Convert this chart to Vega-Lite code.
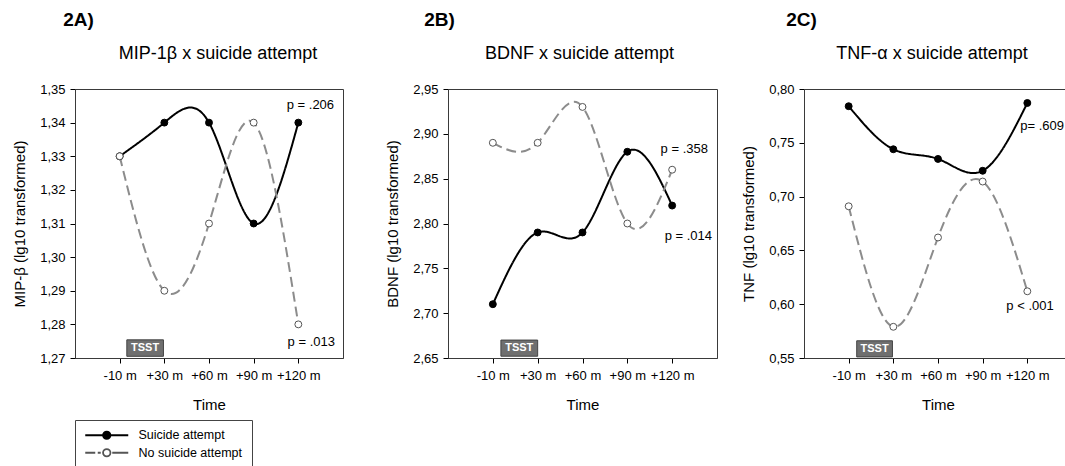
{
 "$schema": "https://vega.github.io/schema/vega-lite/v6.json",
 "padding": {"left": 12, "top": 10, "right": 0, "bottom": 0},
 "background": "white",
 "datasets": {
  "a": [
   {"t": 1, "group": "Suicide attempt", "value": 1.33},
   {"t": 2, "group": "Suicide attempt", "value": 1.34},
   {"t": 3, "group": "Suicide attempt", "value": 1.34},
   {"t": 4, "group": "Suicide attempt", "value": 1.31},
   {"t": 5, "group": "Suicide attempt", "value": 1.34},
   {"t": 1, "group": "No suicide attempt", "value": 1.33},
   {"t": 2, "group": "No suicide attempt", "value": 1.29},
   {"t": 3, "group": "No suicide attempt", "value": 1.31},
   {"t": 4, "group": "No suicide attempt", "value": 1.34},
   {"t": 5, "group": "No suicide attempt", "value": 1.28}
  ],
  "b": [
   {"t": 1, "group": "Suicide attempt", "value": 2.71},
   {"t": 2, "group": "Suicide attempt", "value": 2.79},
   {"t": 3, "group": "Suicide attempt", "value": 2.79},
   {"t": 4, "group": "Suicide attempt", "value": 2.88},
   {"t": 5, "group": "Suicide attempt", "value": 2.82},
   {"t": 1, "group": "No suicide attempt", "value": 2.89},
   {"t": 2, "group": "No suicide attempt", "value": 2.89},
   {"t": 3, "group": "No suicide attempt", "value": 2.93},
   {"t": 4, "group": "No suicide attempt", "value": 2.80},
   {"t": 5, "group": "No suicide attempt", "value": 2.86}
  ],
  "c": [
   {"t": 1, "group": "Suicide attempt", "value": 0.784},
   {"t": 2, "group": "Suicide attempt", "value": 0.744},
   {"t": 3, "group": "Suicide attempt", "value": 0.735},
   {"t": 4, "group": "Suicide attempt", "value": 0.724},
   {"t": 5, "group": "Suicide attempt", "value": 0.787},
   {"t": 1, "group": "No suicide attempt", "value": 0.691},
   {"t": 2, "group": "No suicide attempt", "value": 0.579},
   {"t": 3, "group": "No suicide attempt", "value": 0.662},
   {"t": 4, "group": "No suicide attempt", "value": 0.714},
   {"t": 5, "group": "No suicide attempt", "value": 0.612}
  ],
  "aNote": [
   {"t": 5.27, "value": 1.3452, "label": "p = .206"},
   {"t": 5.29, "value": 1.2747, "label": "p = .013"}
  ],
  "bNote": [
   {"t": 5.27, "value": 2.883, "label": "p = .358"},
   {"t": 5.36, "value": 2.786, "label": "p = .014"}
  ],
  "cNote": [
   {"t": 5.33, "value": 0.7655, "label": "p= .609"},
   {"t": 5.06, "value": 0.5985, "label": "p < .001"}
  ],
  "aBox": [{"x1": 1.16, "x2": 1.98, "y1": 1.2705, "y2": 1.2754, "xm": 1.57, "ym": 1.2729, "label": "TSST"}],
  "bBox": [{"x1": 1.18, "x2": 2.0, "y1": 2.652, "y2": 2.670, "xm": 1.59, "ym": 2.661, "label": "TSST"}],
  "cBox": [{"x1": 1.18, "x2": 1.98, "y1": 0.551, "y2": 0.566, "xm": 1.58, "ym": 0.5585, "label": "TSST"}]
 },
 "config": {
  "font": "Liberation Sans",
  "view": {"stroke": "#3a3a3a", "strokeWidth": 1},
  "axis": {"grid": false, "domainColor": "#3a3a3a", "tickColor": "#000000", "tickSize": 5, "tickCount": 20, "labelColor": "#000000", "titleColor": "#000000", "labelFontSize": 13, "titleFontSize": 15, "titleFontWeight": "normal", "labelFont": "Liberation Sans", "titleFont": "Liberation Sans", "labelOverlap": false},
  "axisX": {"labelPadding": 6, "titlePadding": 15, "labelAngle": 0},
  "axisY": {"labelPadding": 5, "titlePadding": 12},
  "title": {"font": "Liberation Sans", "color": "#000000"}
 },
 "spacing": 41,
 "hconcat": [
  {
   "title": {"text": "2A)", "anchor": "start", "fontSize": 19, "fontWeight": "bold", "dx": 51, "offset": 15},
   "vconcat": [{
    "width": 268, "height": 269,
    "title": {"text": "MIP-1β x suicide attempt", "fontSize": 18, "fontWeight": "normal", "dx": 9, "offset": 20},
    "layer": [
     {"data": {"name": "a"}, "mark": {"type": "line", "interpolate": "natural", "strokeWidth": 2},
      "encoding": {
       "x": {"field": "t", "type": "quantitative", "scale": {"domain": [0, 6], "nice": false}, "axis": {"values": [1, 2, 3, 4, 5], "labelExpr": "['', '-10 m', '+30 m', '+60 m', '+90 m', '+120 m'][datum.value]", "title": "Time"}},
       "y": {"field": "value", "type": "quantitative", "scale": {"domain": [1.27, 1.35], "nice": false, "zero": false}, "axis": {"values": [1.27, 1.28, 1.29, 1.30, 1.31, 1.32, 1.33, 1.34, 1.35], "labelExpr": "replace(format(datum.value, '.2f'), '.', ',')", "title": "MIP-β (lg10 transformed)"}},
       "color": {"field": "group", "type": "nominal", "scale": {"domain": ["No suicide attempt", "Suicide attempt"], "range": ["#8c8c8c", "#000000"]}, "legend": null},
       "strokeDash": {"field": "group", "type": "nominal", "scale": {"domain": ["No suicide attempt", "Suicide attempt"], "range": [[10, 5], [1, 0]]}, "legend": null}
      }},
     {"data": {"name": "a"}, "mark": {"type": "circle", "size": 48, "strokeWidth": 1, "opacity": 1},
      "encoding": {
       "x": {"field": "t", "type": "quantitative"},
       "y": {"field": "value", "type": "quantitative"},
       "fill": {"field": "group", "type": "nominal", "scale": {"domain": ["Suicide attempt", "No suicide attempt"], "range": ["#000000", "#ffffff"]}},
       "stroke": {"field": "group", "type": "nominal", "scale": {"domain": ["Suicide attempt", "No suicide attempt"], "range": ["#000000", "#555555"]}}
      }},
     {"data": {"name": "a"}, "transform": [{"filter": "false"}], "mark": {"type": "point", "filled": true, "size": 100, "strokeWidth": 1.8, "opacity": 1},
      "encoding": {
       "x": {"field": "t", "type": "quantitative"},
       "y": {"field": "value", "type": "quantitative"},
       "fill": {"field": "group", "type": "nominal"},
       "stroke": {"field": "group", "type": "nominal"},
       "shape": {"field": "group", "type": "nominal", "scale": {"domain": ["Suicide attempt", "No suicide attempt"], "range": ["M-1,0H7.6M2.56,0A0.74,0.74,0,1,1,4.04,0A0.74,0.74,0,1,1,2.56,0Z", "M-1,0H1.0M1.5,0H2.1M4.4,0H7.6M2.56,0A0.74,0.74,0,1,1,4.04,0A0.74,0.74,0,1,1,2.56,0Z"]},
        "legend": {"orient": "none", "legendX": 0, "legendY": 331, "title": null, "strokeColor": "#444444", "padding": 9, "labelFontSize": 12.5, "labelFont": "Liberation Sans", "labelColor": "#000000", "symbolSize": 100, "symbolStrokeWidth": 1.8, "symbolOpacity": 1, "labelOffset": 42, "rowPadding": 1.5}}
      }},
     {"data": {"name": "aBox"}, "mark": {"type": "rect", "fill": "#6f6f6f", "stroke": "#444444", "strokeWidth": 1},
      "encoding": {"x": {"field": "x1", "type": "quantitative"}, "x2": {"field": "x2"}, "y": {"field": "y1", "type": "quantitative"}, "y2": {"field": "y2"}}},
     {"data": {"name": "aBox"}, "mark": {"type": "text", "color": "#ffffff", "fontWeight": "bold", "fontSize": 11, "align": "center", "baseline": "middle"},
      "encoding": {"x": {"field": "xm", "type": "quantitative"}, "y": {"field": "ym", "type": "quantitative"}, "text": {"field": "label"}}},
     {"data": {"name": "aNote"}, "mark": {"type": "text", "color": "#000000", "fontSize": 13, "align": "center", "baseline": "middle"},
      "encoding": {"x": {"field": "t", "type": "quantitative"}, "y": {"field": "value", "type": "quantitative"}, "text": {"field": "label"}}}
    ]
   }]
  },
  {
   "spacing": 23,
   "hconcat": [
    {
     "title": {"text": "2B)", "anchor": "start", "fontSize": 19, "fontWeight": "bold", "dx": 39, "offset": 15},
     "vconcat": [{
      "width": 269, "height": 269,
      "title": {"text": "BDNF x suicide attempt", "fontSize": 18, "fontWeight": "normal", "dx": -3, "offset": 20},
      "layer": [
       {"data": {"name": "b"}, "mark": {"type": "line", "interpolate": "natural", "strokeWidth": 2},
        "encoding": {
         "x": {"field": "t", "type": "quantitative", "scale": {"domain": [0, 6], "nice": false}, "axis": {"values": [1, 2, 3, 4, 5], "labelExpr": "['', '-10 m', '+30 m', '+60 m', '+90 m', '+120 m'][datum.value]", "title": "Time"}},
         "y": {"field": "value", "type": "quantitative", "scale": {"domain": [2.65, 2.95], "nice": false, "zero": false}, "axis": {"values": [2.65, 2.70, 2.75, 2.80, 2.85, 2.90, 2.95], "labelExpr": "replace(format(datum.value, '.2f'), '.', ',')", "title": "BDNF (lg10 transformed)"}},
         "color": {"field": "group", "type": "nominal", "legend": null},
         "strokeDash": {"field": "group", "type": "nominal", "legend": null}
        }},
       {"data": {"name": "b"}, "mark": {"type": "circle", "size": 48, "strokeWidth": 1, "opacity": 1},
        "encoding": {
         "x": {"field": "t", "type": "quantitative"},
         "y": {"field": "value", "type": "quantitative"},
         "fill": {"field": "group", "type": "nominal"},
         "stroke": {"field": "group", "type": "nominal"}
        }},
       {"data": {"name": "bBox"}, "mark": {"type": "rect", "fill": "#6f6f6f", "stroke": "#444444", "strokeWidth": 1},
        "encoding": {"x": {"field": "x1", "type": "quantitative"}, "x2": {"field": "x2"}, "y": {"field": "y1", "type": "quantitative"}, "y2": {"field": "y2"}}},
       {"data": {"name": "bBox"}, "mark": {"type": "text", "color": "#ffffff", "fontWeight": "bold", "fontSize": 11, "align": "center", "baseline": "middle"},
        "encoding": {"x": {"field": "xm", "type": "quantitative"}, "y": {"field": "ym", "type": "quantitative"}, "text": {"field": "label"}}},
       {"data": {"name": "bNote"}, "mark": {"type": "text", "color": "#000000", "fontSize": 13, "align": "center", "baseline": "middle"},
        "encoding": {"x": {"field": "t", "type": "quantitative"}, "y": {"field": "value", "type": "quantitative"}, "text": {"field": "label"}}}
      ]
     }]
    },
    {
     "title": {"text": "2C)", "anchor": "start", "fontSize": 19, "fontWeight": "bold", "dx": 45, "offset": 15},
     "vconcat": [{
      "width": 268, "height": 269,
      "title": {"text": "TNF-α x suicide attempt", "fontSize": 18, "fontWeight": "normal", "dx": -6, "offset": 20},
      "layer": [
       {"data": {"name": "c"}, "mark": {"type": "line", "interpolate": "natural", "strokeWidth": 2},
        "encoding": {
         "x": {"field": "t", "type": "quantitative", "scale": {"domain": [0, 6], "nice": false}, "axis": {"values": [1, 2, 3, 4, 5], "labelExpr": "['', '-10 m', '+30 m', '+60 m', '+90 m', '+120 m'][datum.value]", "title": "Time"}},
         "y": {"field": "value", "type": "quantitative", "scale": {"domain": [0.55, 0.80], "nice": false, "zero": false}, "axis": {"values": [0.55, 0.60, 0.65, 0.70, 0.75, 0.80], "labelExpr": "replace(format(datum.value, '.2f'), '.', ',')", "title": "TNF (lg10 transformed)"}},
         "color": {"field": "group", "type": "nominal", "legend": null},
         "strokeDash": {"field": "group", "type": "nominal", "legend": null}
        }},
       {"data": {"name": "c"}, "mark": {"type": "circle", "size": 48, "strokeWidth": 1, "opacity": 1},
        "encoding": {
         "x": {"field": "t", "type": "quantitative"},
         "y": {"field": "value", "type": "quantitative"},
         "fill": {"field": "group", "type": "nominal"},
         "stroke": {"field": "group", "type": "nominal"}
        }},
       {"data": {"name": "cBox"}, "mark": {"type": "rect", "fill": "#6f6f6f", "stroke": "#444444", "strokeWidth": 1},
        "encoding": {"x": {"field": "x1", "type": "quantitative"}, "x2": {"field": "x2"}, "y": {"field": "y1", "type": "quantitative"}, "y2": {"field": "y2"}}},
       {"data": {"name": "cBox"}, "mark": {"type": "text", "color": "#ffffff", "fontWeight": "bold", "fontSize": 11, "align": "center", "baseline": "middle"},
        "encoding": {"x": {"field": "xm", "type": "quantitative"}, "y": {"field": "ym", "type": "quantitative"}, "text": {"field": "label"}}},
       {"data": {"name": "cNote"}, "mark": {"type": "text", "color": "#000000", "fontSize": 13, "align": "center", "baseline": "middle"},
        "encoding": {"x": {"field": "t", "type": "quantitative"}, "y": {"field": "value", "type": "quantitative"}, "text": {"field": "label"}}}
      ]
     }]
    }
   ]
  }
 ]
}
